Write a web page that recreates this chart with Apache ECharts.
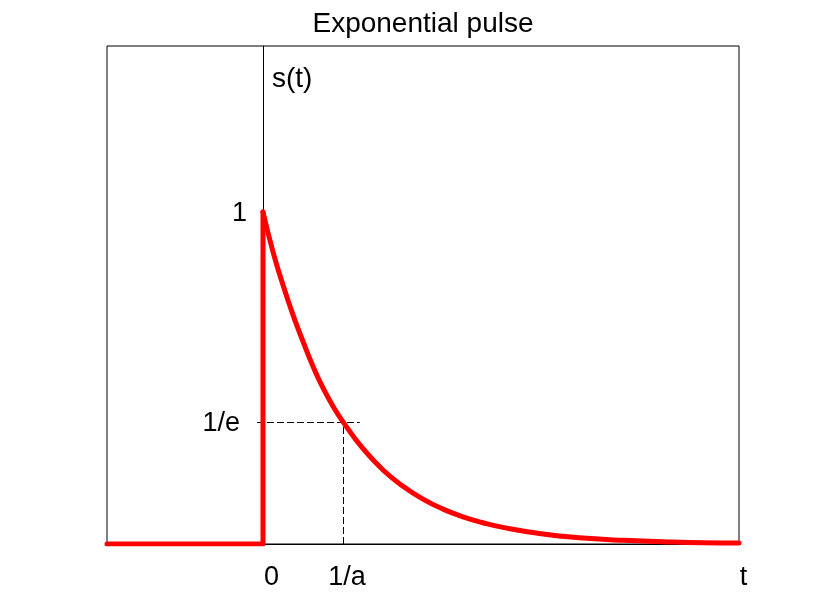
<!DOCTYPE html>
<html>
<head>
<meta charset="utf-8">
<script src="https://cdn.jsdelivr.net/npm/echarts@6/dist/echarts.min.js"></script>
<style>html,body{margin:0;padding:0;background:#fff;}#chart{width:817px;height:612px;}</style>
</head>
<body>
<div id="chart"></div>
<script>
// Values
const stepT = [-1.95, 0, 0];
const stepS = [0, 0, 1];
const decayT = [0, 0.125, 0.25, 0.375, 0.5, 0.625, 0.75, 0.875, 1, 1.25, 1.5, 1.75, 2, 2.25, 2.5, 2.75, 3, 3.5, 4, 4.5, 5, 5.5, 5.95];
const decayS = [1, 0.88, 0.78, 0.69, 0.61, 0.535, 0.47, 0.415, 0.368, 0.287, 0.223, 0.174, 0.135, 0.105, 0.082, 0.064, 0.05, 0.03, 0.018, 0.011, 0.007, 0.004, 0.003];
const xTickValues = [0, 1, 5.95];
const xTickLabels = ['0', '1/a', 't'];
const yTickValues = [1, 0.368];
const yTickLabels = ['1', '1/e'];
const xRange = [-1.95, 5.95];
const yRange = [0, 1.5];
const guideLevel = 0.368;   // 1/e
const guideTime = 1;        // 1/a
const guideSpan = [-0.075, 1.21];

const FONT = '"Liberation Sans", Arial, sans-serif';
const W = 817, H = 612;
const GRID = {left: 107, right: 78, top: 46, bottom: 68};
const chart = echarts.init(document.getElementById('chart'), null, {renderer: 'canvas'});
const gridW = W - GRID.left - GRID.right;
const yAxisOffset = -((0 - xRange[0]) / (xRange[1] - xRange[0])) * gridW;

const base = {fontFamily: FONT, fontSize: 27, color: '#000'};
const xRich = {a: {padding: [0, 0, 0, 17]}, b: {padding: [0, 0, 0, 8]}, c: {padding: [0, 0, 0, 9]}};
const yRich = {a: {padding: [4, 0, 0, 0]}, b: {padding: [4, 7, 0, 0]}};
const mk = r => Object.fromEntries(Object.entries(r).map(([k, v]) => [k, Object.assign({}, base, v)]));
const keys = ['a', 'b', 'c'];
const redLine = {color: '#ff0000', width: 5, join: 'round', cap: 'round'};

chart.setOption({
  animation: false,
  backgroundColor: '#fff',
  title: {
    text: 'Exponential pulse',
    left: GRID.left + gridW / 2 - 5,
    textAlign: 'center',
    top: 5,
    textStyle: {fontFamily: FONT, fontSize: 28, fontWeight: 'normal', color: '#000'}
  },
  grid: Object.assign({show: true, borderColor: '#000', borderWidth: 1, backgroundColor: 'transparent'}, GRID),
  xAxis: {
    type: 'value', min: xRange[0], max: xRange[1],
    axisLine: {show: true, onZero: true, lineStyle: {color: '#000', width: 1}},
    axisTick: {show: false},
    splitLine: {show: false},
    axisLabel: Object.assign({
      customValues: xTickValues,
      margin: 20,
      rich: mk(xRich),
      formatter: function (v) {
        const i = xTickValues.findIndex(t => Math.abs(t - v) < 1e-6);
        return i < 0 ? '' : '{' + keys[i] + '|' + xTickLabels[i] + '}';
      }
    }, base)
  },
  yAxis: {
    type: 'value', min: yRange[0], max: yRange[1],
    position: 'left',
    offset: yAxisOffset,
    name: 's(t)',
    nameLocation: 'end',
    nameGap: -33,
    nameTextStyle: {fontFamily: FONT, fontSize: 28, color: '#000', align: 'left', verticalAlign: 'middle', padding: [0, 0, 0, 9]},
    axisLine: {show: true, onZero: false, lineStyle: {color: '#000', width: 1}},
    axisTick: {show: false},
    splitLine: {show: false},
    axisLabel: Object.assign({
      customValues: yTickValues,
      margin: 16,
      rich: mk(yRich),
      formatter: function (v) {
        const i = yTickValues.findIndex(t => Math.abs(t - v) < 1e-6);
        return i < 0 ? '' : '{' + keys[i] + '|' + yTickLabels[i] + '}';
      }
    }, base)
  },
  series: [{
    type: 'line',
    data: stepT.map((t, i) => [t, stepS[i]]),
    symbol: 'none',
    lineStyle: redLine,
    z: 3
  }, {
    type: 'line',
    data: decayT.map((t, i) => [t, decayS[i]]),
    symbol: 'none',
    smooth: 0.5,
    lineStyle: redLine,
    z: 3,
    markLine: {
      silent: true,
      symbol: ['none', 'none'],
      label: {show: false},
      lineStyle: {color: '#000', width: 1, type: [7, 3]},
      z: 2,
      data: [
        [{coord: [guideSpan[0], guideLevel]}, {coord: [guideSpan[1], guideLevel]}],
        [{coord: [guideTime, 0]}, {coord: [guideTime, guideLevel]}]
      ]
    }
  }]
});
</script>
</body>
</html>
